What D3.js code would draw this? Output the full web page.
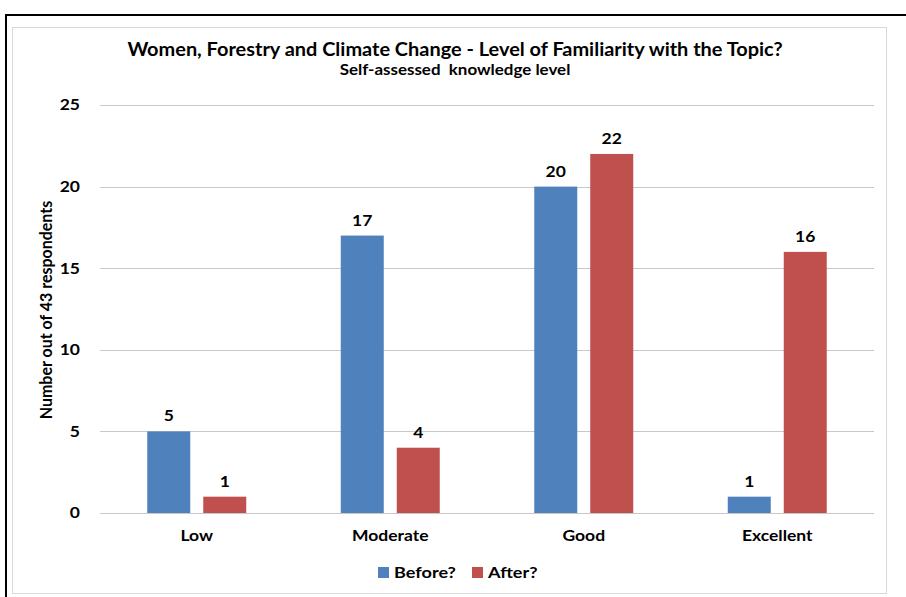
<!DOCTYPE html>
<html>
<head>
<meta charset="utf-8">
<script src="https://cdn.jsdelivr.net/npm/d3@7"></script>
<style>
  html, body { margin: 0; padding: 0; background: #fff; }
  svg { display: block; }
  text { font-family: Lato, "Open Sans", sans-serif; font-weight: bold; fill: #000; }
</style>
</head>
<body>
<svg id="chart" width="906" height="597"></svg>
<script>
// Survey data
const categories = ["Low", "Moderate", "Good", "Excellent"];
const seriesNames = ["Before?", "After?"];
const beforeValues = [5, 17, 20, 1];
const afterValues = [1, 4, 22, 16];
const yTicks = [0, 5, 10, 15, 20, 25];
const colors = ["#4F81BD", "#C0504D"];

// Horizontal widening applied to the text so the bold face reads wide
const SX = 1.13;

const svg = d3.select("#chart");

// Outer frame and inner chart border
svg.append("rect").attr("x", 6).attr("y", 15).attr("width", 910).attr("height", 600)
  .attr("fill", "none").attr("stroke", "#000").attr("stroke-width", 2);
svg.append("rect").attr("x", 12.5).attr("y", 27.5).attr("width", 874).attr("height", 566)
  .attr("fill", "#fff").attr("stroke", "#D9D9D9").attr("stroke-width", 1);

const plot = { left: 100, right: 874, top: 105, bottom: 513 };

const x0 = d3.scaleBand().domain(categories).range([plot.left, plot.right]).paddingInner(0).paddingOuter(0);
const x1 = d3.scaleBand().domain(seriesNames).range([0, x0.bandwidth()]).paddingInner(0.232).paddingOuter(0.844);
const y = d3.scaleLinear().domain([0, 25]).range([plot.bottom, plot.top]);

// Gridlines
svg.append("g").selectAll("line").data(yTicks).join("line")
  .attr("x1", plot.left).attr("x2", plot.right)
  .attr("y1", d => Math.round(y(d)) + 0.5).attr("y2", d => Math.round(y(d)) + 0.5)
  .attr("stroke", "#C8C8C8").attr("stroke-width", 1);

function styleText(sel, size) {
  sel.attr("font-size", size).attr("font-family", "Lato, sans-serif")
    .attr("font-weight", "bold").attr("fill", "#000")
    .attr("transform", `scale(${SX},1)`);
}

// Y axis labels
const yAxis = d3.axisLeft(y).tickValues(yTicks).tickSize(0).tickPadding(0);
const yg = svg.append("g").attr("transform", `translate(80,0)`).call(yAxis);
yg.select(".domain").remove();
styleText(yg.selectAll("text"), 15.5);

// X axis labels
const xAxis = d3.axisBottom(x0).tickSize(0).tickPadding(0);
const xg = svg.append("g").attr("transform", `translate(0,${plot.bottom + 17})`).call(xAxis);
xg.select(".domain").remove();
styleText(xg.selectAll("text"), 15.5);

// Bars
const rows = categories.map((c, i) => ({ cat: c, vals: [beforeValues[i], afterValues[i]] }));
const groups = svg.append("g").selectAll("g").data(rows).join("g")
  .attr("transform", d => `translate(${x0(d.cat)},0)`);

const cells = d => d.vals.map((v, j) => ({ s: seriesNames[j], v, j }));

groups.selectAll("rect").data(cells).join("rect")
  .attr("x", d => x1(d.s))
  .attr("y", d => y(d.v))
  .attr("width", x1.bandwidth())
  .attr("height", d => y(0) - y(d.v))
  .attr("fill", d => colors[d.j]);

// Value labels above each bar
groups.selectAll("text").data(cells).join("text")
  .attr("transform", d => `translate(${x1(d.s) + x1.bandwidth() / 2},${y(d.v) - 10}) scale(${SX},1)`)
  .attr("text-anchor", "middle")
  .attr("font-size", 15.5)
  .text(d => d.v);

// Titles
svg.append("text").attr("transform", `translate(455,56) scale(${SX * 0.98},1)`).attr("text-anchor", "middle")
  .attr("font-size", 18).text("Women, Forestry and Climate Change - Level of Familiarity with the Topic?");
svg.append("text").attr("transform", `translate(455,75) scale(${SX},1)`).attr("text-anchor", "middle")
  .attr("font-size", 15).attr("xml:space", "preserve").text("Self-assessed  knowledge level");

// Y axis title
svg.append("text").attr("transform", "translate(52,310) rotate(-90) scale(1,1.1)")
  .attr("text-anchor", "middle").attr("font-size", 16).text("Number out of 43 respondents");

// Legend
const legend = svg.append("g").attr("transform", "translate(378,567)");
const legendX = [0, 94];
seriesNames.forEach((name, i) => {
  const g = legend.append("g").attr("transform", `translate(${legendX[i]},0)`);
  g.append("rect").attr("width", 11).attr("height", 11).attr("fill", colors[i]);
  g.append("text").attr("transform", `translate(16,11) scale(${SX},1)`).attr("font-size", 16).text(name);
});
</script>
</body>
</html>
